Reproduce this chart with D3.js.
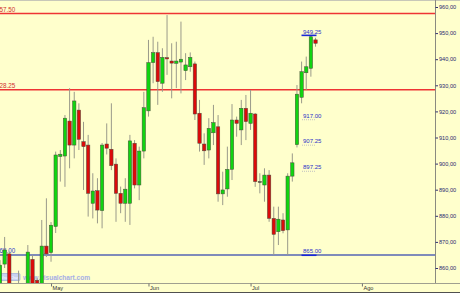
<!DOCTYPE html>
<html>
<head>
<meta charset="utf-8">
<script src="https://cdn.jsdelivr.net/npm/d3@7/dist/d3.min.js"></script>
<style>
  html, body { margin: 0; padding: 0; background: #ffffcc; }
  svg { display: block; font-family: Arial, "Liberation Sans", sans-serif; }
</style>
</head>
<body>
<div id="chart"></div>
<script>
// Daily candles (index 0 = first bar on the left)
var openV  = [852,861.5,865.4,851,850,848,852,863.3,855.3,852,868.4,865.9,875.9,902.7,902.9,916.3,907.1,920.5,908.4,907.1,
              884.8,889.6,882,907.5,905.5,899.8,888.6,884.8,884.8,907.8,891.8,904.8,920.2,938.7,942.5,930.8,940.6,939.3,938.4,938.9,
              935.6,937.1,938.2,919.3,907.5,905.2,911.8,914.1,888.4,890.3,897.8,916.7,912.9,921.2,915.4,919,893.1,891.8,895.6,879,
              873.9,878.4,874.6,895.2,907.25,925.4,934.8,936.5,947.4];
var highV  = [863,871.9,866.3,853,859,852,868.8,865,856,878.4,886.7,877.6,904.6,905.2,918.6,928.9,927.5,923.1,916,911,
              896.3,894.4,907.9,915.4,923.1,902,891.2,894.4,911,909,906.5,927.5,947.4,948.6,946.7,944.2,956.9,946.1,946.7,954.4,
              942.3,942.6,939.1,924.4,911.6,917.4,922.5,918.6,896.9,906.5,922.8,918,924.4,926.3,928.2,919.4,896.3,898.2,897.5,883.5,
              883.5,881,896.3,903.9,930.1,939.1,941,949.25,948.2];
var lowV   = [850,860,848,846,845,844,848,849,849,850,864.2,862.4,873.4,893.1,891.1,898.2,902,905.2,889.9,879.7,
              879,877.1,875.2,903.5,897.5,877.7,881,877.7,876.5,890.5,886,902,918,930.8,922.5,927.5,934,925,928.9,926.9,
              932,935.2,916.7,904.6,899.5,902,907.1,885.4,884.1,887.3,893.7,910.3,907.1,909,912.9,891.1,888.6,885.4,877.7,865,
              868.8,873.3,865,893.1,906.2,923.1,928.2,933.3,944.8];
var closeV = [861.1,866.9,852,849,847,850,866.1,853,853,868.4,865.4,876.4,903.3,903.6,917.4,907.1,924,909.3,906.5,888.6,
              889.5,882.2,907.1,905.9,899.2,888.6,884.8,890.2,908.7,891.8,904.8,921.4,938.7,942.5,931.4,940.7,940.1,938.5,939.3,940,
              937.8,940.7,919,907.8,904.9,913.5,915.7,888.4,889.9,897.8,916.7,915.4,921.2,916.1,919.3,893.1,893.1,895.6,879,872.9,
              878.7,874.3,895.2,900.3,926.6,935.2,937.1,948.6,946.1];

// Horizontal levels
var redLevels = [957.50, 928.25];
var blueLevels = [865.00];
var markedLevels = [949.25, 865.00];         // blue underlined
var dottedLevels = [917.00, 907.25, 897.25]; // dotted underlined

// Axes
var priceTicks = [860, 870, 880, 890, 900, 910, 920, 930, 940, 950, 960];
var monthTicks = [11, 32, 54, 78];
var monthLabels = ['May', 'Jun', 'Jul', 'Ago'];

var W = 460, H = 293;
var plotR = 435, plotB = 283;

var svg = d3.select('#chart').append('svg')
  .attr('width', W).attr('height', H);

svg.append('rect').attr('width', W).attr('height', H).attr('fill', '#ffffcc');

var x = d3.scaleLinear().domain([0, 93.75]).range([0, plotR]);
var y = d3.scaleLinear().domain([860, 960]).range([268, 7]);

svg.append('defs').append('clipPath').attr('id', 'plotclip')
  .append('rect').attr('x', 0).attr('y', 1).attr('width', plotR).attr('height', plotB - 1);

var plot = svg.append('g').attr('clip-path', 'url(#plotclip)');

// level lines (labels start left of the frame, so they are cut like in the original)
plot.selectAll('.red-line').data(redLevels).join('line')
  .attr('x1', 0).attr('x2', plotR)
  .attr('y1', function (d) { return y(d); }).attr('y2', function (d) { return y(d); })
  .attr('stroke', '#ee3434').attr('stroke-width', 1.5);
plot.selectAll('.red-label').data(redLevels).join('text')
  .attr('x', -4).attr('y', function (d) { return y(d) - 1.8; })
  .attr('fill', '#d03030').attr('font-size', '6.3px')
  .text(function (d) { return d.toFixed(2); });

plot.selectAll('.blue-line').data(blueLevels).join('line')
  .attr('x1', 0).attr('x2', plotR)
  .attr('y1', function (d) { return y(d); }).attr('y2', function (d) { return y(d); })
  .attr('stroke', '#5564b4').attr('stroke-width', 1.4);
plot.selectAll('.blue-label').data(blueLevels).join('text')
  .attr('x', -4).attr('y', function (d) { return y(d) - 2; })
  .attr('fill', '#3040c8').attr('font-size', '6.3px')
  .text(function (d) { return d.toFixed(2); });

// watermark
plot.append('rect').attr('x', -2).attr('y', 273.5).attr('width', 22).attr('height', 7)
  .attr('fill', '#c8d2f0').attr('stroke', '#8f9fd8').attr('stroke-width', 0.6).attr('rx', 1);
plot.append('text').attr('x', 1).attr('y', 279).attr('font-size', '3.5px').attr('fill', '#ffffff')
  .text('VisualChart');
plot.append('text').attr('x', 23).attr('y', 279.5).attr('font-size', '6.6px')
  .attr('fill', '#a6aee6').attr('font-weight', 'bold').text('www.visualchart.com');

// candles
var idx = d3.range(openV.length);
var bw = 3.4;
plot.selectAll('.wick').data(idx).join('line')
  .attr('x1', function (i) { return x(i); }).attr('x2', function (i) { return x(i); })
  .attr('y1', function (i) { return y(highV[i]); }).attr('y2', function (i) { return y(lowV[i]); })
  .attr('stroke', '#9a9a8a').attr('stroke-width', 1);
plot.selectAll('.body').data(idx).join('rect')
  .attr('x', function (i) { return x(i) - bw / 2; })
  .attr('y', function (i) { return y(Math.max(openV[i], closeV[i])); })
  .attr('width', bw)
  .attr('height', function (i) { return Math.max(0.8, Math.abs(y(openV[i]) - y(closeV[i]))); })
  .attr('fill', function (i) {
    if (closeV[i] === openV[i]) return '#333';
    return closeV[i] > openV[i] ? '#10d410' : '#dc0a0a';
  })
  .attr('stroke', '#4a4a3a').attr('stroke-width', 0.5);

// level annotations on the right of the last bars
var lblX = 302;
svg.selectAll('.mark-lbl').data(markedLevels).join('text')
  .attr('x', lblX + 1).attr('y', function (d) { return y(d) - 1.5; })
  .attr('fill', '#2a32c8').attr('font-size', '6px')
  .text(function (d) { return d.toFixed(2); });
svg.selectAll('.mark-ul').data(markedLevels).join('line')
  .attr('x1', lblX - 0.5).attr('x2', lblX + 14.5)
  .attr('y1', function (d) { return y(d) + 0.3; }).attr('y2', function (d) { return y(d) + 0.3; })
  .attr('stroke', '#1a28d8').attr('stroke-width', 1.6);
svg.selectAll('.dot-lbl').data(dottedLevels).join('text')
  .attr('x', lblX + 1).attr('y', function (d) { return y(d) - 1.5; })
  .attr('fill', '#2a32c8').attr('font-size', '6px')
  .text(function (d) { return d.toFixed(2); });
svg.selectAll('.dot-ul').data(dottedLevels).join('line')
  .attr('x1', lblX).attr('x2', lblX + 14)
  .attr('y1', function (d) { return y(d) + 0.5; }).attr('y2', function (d) { return y(d) + 0.5; })
  .attr('stroke', '#b0b0c0').attr('stroke-width', 0.8).attr('stroke-dasharray', '1,1');

// frame lines
svg.append('line').attr('x1', 0).attr('x2', W).attr('y1', 0.5).attr('y2', 0.5)
  .attr('stroke', '#c8c8b8');
svg.append('line').attr('x1', 0).attr('x2', W).attr('y1', plotB + 0.5).attr('y2', plotB + 0.5)
  .attr('stroke', '#a0a090');
svg.append('line').attr('x1', 0).attr('x2', W).attr('y1', 292.5).attr('y2', 292.5)
  .attr('stroke', '#505050');

// right price axis
var yAxis = d3.axisRight(y).tickValues(priceTicks).tickSize(2.5).tickPadding(1)
  .tickFormat(function (d) { return d3.format('.2f')(d).replace('.', ','); });
var ya = svg.append('g').attr('transform', 'translate(' + (plotR + 0.5) + ',0)').call(yAxis);
ya.select('.domain').attr('stroke', '#8a8a80').attr('d', 'M0,0V' + plotB);
ya.selectAll('.tick line').attr('stroke', '#303070');
ya.selectAll('.tick text').attr('fill', '#28286e').attr('font-size', '5.6px')
  .attr('font-family', 'Arial, "Liberation Sans", sans-serif');

// bottom month axis
var xAxis = d3.axisBottom(x).tickValues(monthTicks).tickSize(3).tickSizeOuter(0)
  .tickFormat(function (d, i) { return monthLabels[i]; });
var xa = svg.append('g').attr('transform', 'translate(0,' + (plotB + 0.5) + ')').call(xAxis);
xa.select('.domain').remove();
xa.selectAll('.tick line').attr('stroke', '#707070');
xa.selectAll('.tick text').attr('fill', '#303030').attr('font-size', '5.6px')
  .attr('text-anchor', 'start').attr('x', 1).attr('y', 3).attr('dy', '0.71em')
  .attr('font-family', 'Arial, "Liberation Sans", sans-serif');
</script>
</body>
</html>
